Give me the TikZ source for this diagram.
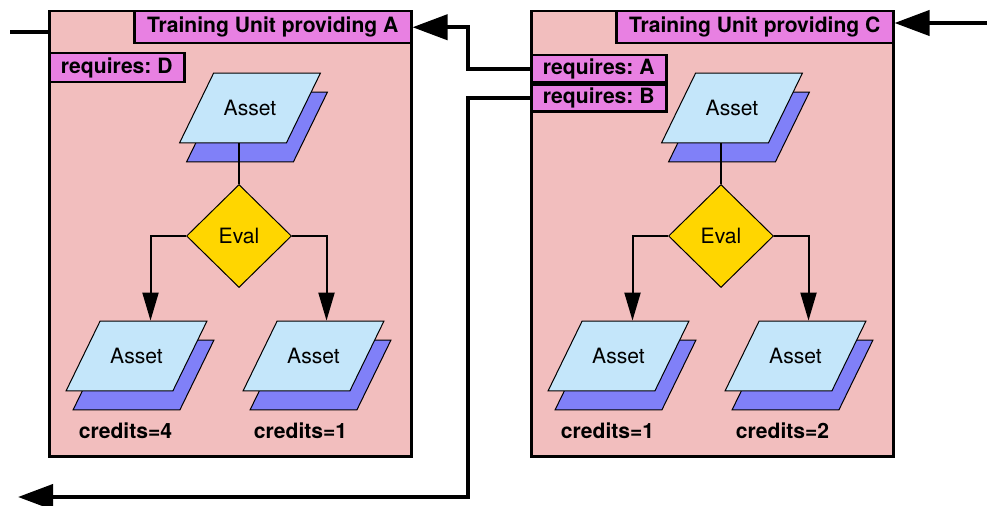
\documentclass[tikz,border=0pt]{standalone}
\usepackage{fontspec}
\setmainfont{TeX Gyre Heros}
\frenchspacing
\usetikzlibrary{shapes.geometric,shadows,arrows.meta,positioning}
\definecolor{unitbg}{RGB}{242,190,190}
\definecolor{tagbg}{RGB}{232,128,226}
\definecolor{assetbg}{RGB}{196,230,250}
\definecolor{assetsh}{RGB}{128,128,248}
\definecolor{evalbg}{RGB}{255,214,0}

\tikzset{
	unit/.style={draw, rectangle, line width=0.05cm, fill=unitbg, minimum width=7.24cm, minimum height=8.9cm, anchor=north west},
	tag/.style={draw, rectangle, line width=0.05cm, fill=tagbg, font=\fontsize{12}{14}\selectfont\bfseries, inner sep=0pt},
	asset/.style={draw, trapezium, trapezium left angle=64, trapezium right angle=116, text width=1.2cm, align=center, text height=8pt, text depth=0pt, inner xsep=0.128cm, inner ysep=15.85pt, fill=assetbg, line width=0.02cm, font=\fontsize{12}{14}\selectfont,
		copy shadow={shadow xshift=0.14cm, shadow yshift=-0.38cm, fill=assetsh, draw=black, line width=0.02cm}},
	evalbox/.style={draw, diamond, fill=evalbg, minimum width=2.1cm, minimum height=2.06cm, inner sep=0pt, line width=0.02cm, font=\fontsize{12}{14}\selectfont},
	credits/.style={font=\fontsize{12}{14}\selectfont\bfseries},
	flow/.style={line width=0.04cm, >={Triangle[length=0.56cm,width=0.32cm]}},
	link/.style={line width=0.08cm, >={Triangle[length=0.7cm,width=0.5cm]}},
}

\begin{document}
\begin{tikzpicture}[x=0.2mm, y=-0.2mm]
	\useasboundingbox (0,0) rectangle (987,506);

	% unit providing A
	\node [unit] (unitA) at (48,10) {};
	\node [tag, anchor=north east, minimum width=5.54cm, minimum height=0.64cm] (titleA) at (unitA.north east) {Training Unit providing A};
	\node [tag, anchor=north west, minimum width=2.7cm, minimum height=0.58cm] (reqD) at (48,52) {requires: D};

	\node [asset] (assetA) at ([xshift=4.04cm, yshift=-1.96cm] unitA.north west) {Asset};
	\node [evalbox, below of=assetA, node distance=2.56cm, xshift=-0.22cm] (evalA) {Eval};
	\node [asset, below of=evalA, node distance=2.4cm, xshift=-2.05cm] (aLA) {Asset};
	\node [asset, below of=evalA, node distance=2.4cm, xshift=1.49cm] (aRA) {Asset};
	\node [credits, below of=aLA, node distance=1.5cm, xshift=-0.22cm] (crLA) {credits=4};
	\node [credits, below of=aRA, node distance=1.5cm, xshift=-0.26cm] (crRA) {credits=1};

	\draw [flow] (evalA.north) -- (evalA.north |- assetA.south);
	\draw [flow,->] (evalA.west) -| ([xshift=0.28cm] aLA.north);
	\draw [flow,->] (evalA.east) -| ([xshift=0.26cm] aRA.north);

	% unit providing C
	\node [unit] (unitC) at (530,10) {};
	\node [tag, anchor=north east, minimum width=5.54cm, minimum height=0.64cm] (titleC) at (unitC.north east) {Training Unit providing C};
	\node [tag, anchor=north west, minimum width=2.7cm, minimum height=0.54cm] (reqA) at (530,54) {requires: A};
	\node [tag, anchor=north west, minimum width=2.7cm, minimum height=0.54cm] (reqB) at (reqA.south west) {requires: B};

	\node [asset] (assetC) at ([xshift=4.04cm, yshift=-1.96cm] unitC.north west) {Asset};
	\node [evalbox, below of=assetC, node distance=2.56cm, xshift=-0.22cm] (evalC) {Eval};
	\node [asset, below of=evalC, node distance=2.4cm, xshift=-2.05cm] (aLC) {Asset};
	\node [asset, below of=evalC, node distance=2.4cm, xshift=1.49cm] (aRC) {Asset};
	\node [credits, below of=aLC, node distance=1.5cm, xshift=-0.22cm] (crLC) {credits=1};
	\node [credits, below of=aRC, node distance=1.5cm, xshift=-0.26cm] (crRC) {credits=2};

	\draw [flow] (evalC.north) -- (evalC.north |- assetC.south);
	\draw [flow,->] (evalC.west) -| ([xshift=0.28cm] aLC.north);
	\draw [flow,->] (evalC.east) -| ([xshift=0.26cm] aRC.north);

	% links between units
	\coordinate (outA) at (10,32);
	\coordinate (inC) at (987,23);
	\coordinate (bend) at (468,0);
	\coordinate (outB) at (18,497);
	\draw [link] (outA -| unitA.west) -- (outA);
	\draw [link,->] (inC) -- (inC -| titleC.east);
	\draw [link,->] (reqA.west) -- (reqA.west -| bend) |- (titleA.east);
	\draw [link,->] (reqB.west) -- (reqB.west -| bend) |- (outB);
\end{tikzpicture}
\end{document}
